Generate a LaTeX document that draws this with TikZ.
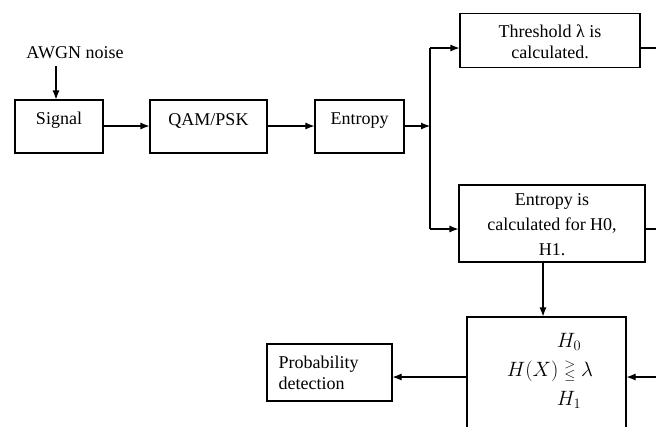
\documentclass[tikz,border=0pt]{standalone}
\usepackage{amsmath}
\usepackage{fontspec}
\setmainfont{Liberation Serif}
\usetikzlibrary{arrows.meta}
\begin{document}
\begin{tikzpicture}[x=1pt,y=-1pt,
  box/.style={draw, line width=1.1pt, inner sep=0pt},
  txt/.style={font=\fontsize{18}{22}\selectfont, inner sep=0pt, align=center},
  conn/.style={line width=1.1pt},
  arr/.style={conn, -{Latex[length=9pt,width=7pt]}}]
\useasboundingbox (0,0) rectangle (656,426);
\clip (0,0) rectangle (656,426);
% boxes
\node[box, minimum width=88pt, minimum height=53pt] (sig) at (59,126.5) {};
\node[txt] at ([yshift=6pt]sig.center) {Signal};
\node[box, minimum width=117pt, minimum height=53pt] (qam) at (208.5,126.5) {};
\node[txt] at ([yshift=6pt]qam.center) {QAM/PSK};
\node[box, minimum width=89pt, minimum height=53pt] (ent) at (359.5,126.5) {};
\node[txt] at ([yshift=6pt]ent.center) {Entropy};
\node[txt, anchor=base] (awgn) at (75,58) {AWGN noise};
\node[box, minimum width=180pt, minimum height=54pt] (thr) at (550,40.5) {};
\node[txt, font=\fontsize{18}{21}\selectfont] at ([yshift=-1pt]thr.center) {Threshold λ is\\calculated.};
\node[box, minimum width=186pt, minimum height=77pt] (ecal) at (552,223.5) {};
\node[txt, font=\fontsize{18}{25}\selectfont] at ([yshift=-1pt]ecal.center) {Entropy is\\calculated for H0,\\H1.};
\node[box, minimum width=159pt, minimum height=130pt] (dec) at (546.5,382) {};
\node[inner sep=0pt, align=center, font=\fontsize{21}{29}\selectfont] (rel) at (550,371) {\hspace*{38pt}$H_0$\\$H(X)\mathrel{\substack{>\\ \leq}}\lambda$\\\hspace*{38pt}$H_1$};
\node[box, minimum width=125pt, minimum height=57pt] (prob) at (329.5,372.5) {};
\node[txt, align=left, anchor=west, font=\fontsize{18}{21}\selectfont] at ([xshift=12pt]prob.west) {Probability\\detection};
% junction and free ends
\coordinate (j) at (430,126);
\coordinate (throut) at (660,48);
\coordinate (ecalout) at (660,229);
\coordinate (decin) at (660,377);
% connectors
\draw[arr] (56,66) -- (sig.north -| 56,0);
\draw[arr] (sig.east |- 0,126) -- (qam.west |- 0,126);
\draw[arr] (qam.east |- 0,126) -- (ent.west |- 0,126);
\draw[arr] (ent.east |- 0,126) -- (j);
\draw[conn] (430,48) -- (430,229);
\draw[arr] (430,48) -- (thr.west |- 0,48);
\draw[arr] (430,229) -- (ecal.west |- 0,229);
\draw[conn] (thr.east |- throut) -- (throut);
\draw[conn] (ecal.east |- ecalout) -- (ecalout);
\draw[arr] (ecal.south -| 543,0) -- (dec.north -| 543,0);
\draw[arr] (decin) -- (dec.east |- decin);
\draw[arr] (dec.west |- 0,377) -- (prob.east |- 0,377);
\end{tikzpicture}
\end{document}
